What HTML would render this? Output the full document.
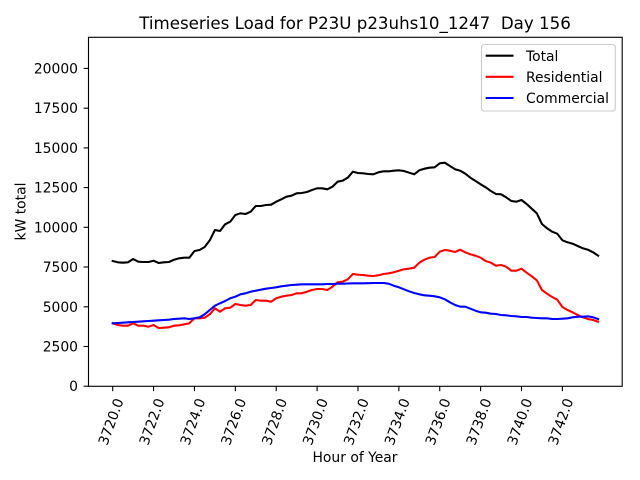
<!DOCTYPE html>
<html><head><meta charset="utf-8"><style>
html,body{margin:0;padding:0;background:#fff;}
svg{display:block;}
text{font-family:"DejaVu Sans","Liberation Sans",sans-serif;fill:#000;}
</style></head><body>
<svg width="640" height="480" viewBox="0 0 640 480" xmlns="http://www.w3.org/2000/svg">
<rect x="0" y="0" width="640" height="480" fill="#fff"/>
<text x="355" y="29" font-size="16.67" text-anchor="middle" xml:space="preserve" style="white-space:pre">Timeseries Load for P23U p23uhs10_1247  Day 156</text>

<!-- lines -->
<polyline fill="none" stroke="#000" stroke-width="2.08" stroke-linejoin="round" stroke-linecap="square" points="112.70,261 117.81,262.3 122.92,262.7 128.03,262.3 133.14,259 138.25,261.7 143.36,262 148.47,262 153.58,260.7 158.69,263 163.80,262.3 168.91,262 174.02,259.7 179.13,258.3 184.24,257.7 189.35,257.7 194.46,251 199.57,250 204.68,247 209.79,240.3 214.90,230 220.01,231 225.12,224.3 230.23,221.7 235.34,215 240.45,213.3 245.56,214 250.67,211.7 255.78,206 260.89,206 266.00,205 271.11,204.7 276.22,201.7 281.33,199.3 286.44,196.7 291.55,195.7 296.66,193.3 301.77,193 306.88,192 311.99,190 317.10,188.3 322.21,188.3 327.32,189.3 332.43,186.7 337.54,181.7 342.65,180.7 347.76,177.7 352.87,171.7 357.98,173 363.09,173.3 368.20,174 373.31,174.3 378.42,172.3 383.53,171.3 388.64,171.3 393.75,170.7 398.86,170.3 403.97,171 409.08,172.7 414.19,174.3 419.30,170.3 424.41,168.7 429.52,167.7 434.63,167.3 439.74,163.3 444.85,162.7 449.96,166 455.07,169.3 460.18,170.7 465.29,173.7 470.40,177.7 475.51,181 480.62,184.3 485.73,187.3 490.84,191 495.95,194 501.06,194.3 506.17,197.3 511.28,201 516.39,201.7 521.50,200 526.61,204 531.72,208.7 536.83,213.3 541.94,224 547.05,228.3 552.16,231.7 557.27,233.7 562.38,240.3 567.49,242.3 572.60,243.7 577.71,246 582.82,248.3 587.93,249.7 593.04,252.3 598.15,255.7"/>
<polyline fill="none" stroke="#ff0000" stroke-width="2.08" stroke-linejoin="round" stroke-linecap="square" points="112.70,323.3 117.81,325 122.92,325.7 128.03,325.7 133.14,323.3 138.25,325.7 143.36,325.7 148.47,326.7 153.58,325 158.69,328 163.80,327.7 168.91,327.3 174.02,325.7 179.13,325.3 184.24,324.3 189.35,323.3 194.46,318.3 199.57,318.3 204.68,317.7 209.79,314.3 214.90,308.3 220.01,311.7 225.12,308.3 230.23,307.7 235.34,304 240.45,305 245.56,305.7 250.67,305 255.78,300 260.89,300.7 266.00,300.7 271.11,301.7 276.22,298.3 281.33,296.7 286.44,295.7 291.55,295 296.66,293.3 301.77,293.3 306.88,291.7 311.99,290 317.10,289 322.21,289 327.32,290 332.43,286.7 337.54,282.3 342.65,281.7 347.76,279.3 352.87,274 357.98,274.7 363.09,275 368.20,275.7 373.31,276 378.42,275.3 383.53,274 388.64,273.3 393.75,272.3 398.86,270.7 403.97,269.3 409.08,268.7 414.19,267.7 419.30,262.7 424.41,259.7 429.52,257.7 434.63,257 439.74,251.7 444.85,250 449.96,250.7 455.07,252 460.18,249.7 465.29,252.3 470.40,254.3 475.51,255.7 480.62,257.7 485.73,261 490.84,262.7 495.95,265.7 501.06,265 506.17,266.7 511.28,270.7 516.39,270.7 521.50,268.7 526.61,272.7 531.72,276.3 536.83,280.3 541.94,290 547.05,293.7 552.16,297 557.27,299.7 562.38,307 567.49,310 572.60,312.3 577.71,315 582.82,317.3 587.93,319 593.04,320 598.15,321.7"/>
<polyline fill="none" stroke="#0000ff" stroke-width="2.08" stroke-linejoin="round" stroke-linecap="square" points="112.70,323.3 117.81,323 122.92,322.7 128.03,322.3 133.14,322 138.25,321.7 143.36,321.3 148.47,321 153.58,320.7 158.69,320.3 163.80,320 168.91,319.7 174.02,319 179.13,318.7 184.24,318.3 189.35,319 194.46,318.3 199.57,317.3 204.68,314.3 209.79,310 214.90,305.7 220.01,303.3 225.12,301 230.23,298.3 235.34,296.7 240.45,294.3 245.56,293.3 250.67,291.7 255.78,290.7 260.89,289.7 266.00,288.7 271.11,288 276.22,287.3 281.33,286.3 286.44,285.7 291.55,285 296.66,284.7 301.77,284.3 306.88,284.3 311.99,284.3 317.10,284.3 322.21,284.3 327.32,284 332.43,284 337.54,283.7 342.65,283.7 347.76,283.5 352.87,283.3 357.98,283.3 363.09,283.3 368.20,283.2 373.31,283 378.42,283 383.53,283 388.64,283.7 393.75,285.7 398.86,287.3 403.97,289.3 409.08,291.3 414.19,293 419.30,294.3 424.41,295.3 429.52,295.7 434.63,296.3 439.74,297.3 444.85,299.3 449.96,302.3 455.07,305 460.18,306.7 465.29,306.7 470.40,308.7 475.51,310.7 480.62,312.3 485.73,312.7 490.84,313.7 495.95,314 501.06,315 506.17,315.3 511.28,316 516.39,316.3 521.50,317 526.61,317 531.72,317.7 536.83,318 541.94,318.3 547.05,318.3 552.16,319 557.27,319 562.38,318.7 567.49,318.3 572.60,317.3 577.71,316.7 582.82,316.7 587.93,316.3 593.04,317.3 598.15,319"/>

<!-- axes frame -->
<rect x="88.5" y="37.3" width="533.7" height="349" fill="none" stroke="#000" stroke-width="1.11"/>

<!-- y ticks -->
<g stroke="#000" stroke-width="1.11">
<line x1="83.6" y1="386.2" x2="88.5" y2="386.2"/>
<line x1="83.6" y1="346.5" x2="88.5" y2="346.5"/>
<line x1="83.6" y1="306.8" x2="88.5" y2="306.8"/>
<line x1="83.6" y1="267.0" x2="88.5" y2="267.0"/>
<line x1="83.6" y1="227.3" x2="88.5" y2="227.3"/>
<line x1="83.6" y1="187.6" x2="88.5" y2="187.6"/>
<line x1="83.6" y1="147.9" x2="88.5" y2="147.9"/>
<line x1="83.6" y1="108.2" x2="88.5" y2="108.2"/>
<line x1="83.6" y1="68.4" x2="88.5" y2="68.4"/>
</g>
<g font-size="13.89" text-anchor="end">
<text x="78" y="391.2">0</text>
<text x="78" y="351.5">2500</text>
<text x="78" y="311.8">5000</text>
<text x="78" y="272.0">7500</text>
<text x="78" y="232.3">10000</text>
<text x="78" y="192.6">12500</text>
<text x="78" y="152.9">15000</text>
<text x="78" y="113.2">17500</text>
<text x="78" y="73.4">20000</text>
</g>
<text transform="translate(25.5,211.5) rotate(-90)" font-size="13.89" text-anchor="middle">kW total</text>

<!-- x ticks -->
<g stroke="#000" stroke-width="1.11">
<line x1="112.70" y1="386.3" x2="112.70" y2="391.2"/>
<line x1="153.58" y1="386.3" x2="153.58" y2="391.2"/>
<line x1="194.46" y1="386.3" x2="194.46" y2="391.2"/>
<line x1="235.34" y1="386.3" x2="235.34" y2="391.2"/>
<line x1="276.22" y1="386.3" x2="276.22" y2="391.2"/>
<line x1="317.10" y1="386.3" x2="317.10" y2="391.2"/>
<line x1="357.98" y1="386.3" x2="357.98" y2="391.2"/>
<line x1="398.86" y1="386.3" x2="398.86" y2="391.2"/>
<line x1="439.74" y1="386.3" x2="439.74" y2="391.2"/>
<line x1="480.62" y1="386.3" x2="480.62" y2="391.2"/>
<line x1="521.50" y1="386.3" x2="521.50" y2="391.2"/>
<line x1="562.38" y1="386.3" x2="562.38" y2="391.2"/>
</g>
<g font-size="13.89" text-anchor="middle" dominant-baseline="central">
<text transform="translate(111.7,422) rotate(-70)">3720.0</text>
<text transform="translate(152.6,422) rotate(-70)">3722.0</text>
<text transform="translate(193.5,422) rotate(-70)">3724.0</text>
<text transform="translate(234.3,422) rotate(-70)">3726.0</text>
<text transform="translate(275.2,422) rotate(-70)">3728.0</text>
<text transform="translate(316.1,422) rotate(-70)">3730.0</text>
<text transform="translate(357.0,422) rotate(-70)">3732.0</text>
<text transform="translate(397.9,422) rotate(-70)">3734.0</text>
<text transform="translate(438.7,422) rotate(-70)">3736.0</text>
<text transform="translate(479.6,422) rotate(-70)">3738.0</text>
<text transform="translate(520.5,422) rotate(-70)">3740.0</text>
<text transform="translate(561.4,422) rotate(-70)">3742.0</text>
</g>
<text x="355" y="462" font-size="13.89" text-anchor="middle">Hour of Year</text>

<!-- legend -->
<rect x="481.5" y="44.5" width="133.8" height="66.5" rx="2.8" ry="2.8" fill="#fff" fill-opacity="0.8" stroke="#cccccc" stroke-width="1.11"/>
<line x1="485.7" y1="55.7" x2="513.5" y2="55.7" stroke="#000" stroke-width="2.08"/>
<line x1="485.7" y1="76.8" x2="513.5" y2="76.8" stroke="#ff0000" stroke-width="2.08"/>
<line x1="485.7" y1="98" x2="513.5" y2="98" stroke="#0000ff" stroke-width="2.08"/>
<g font-size="13.89">
<text x="526" y="60.8">Total</text>
<text x="526" y="81.9">Residential</text>
<text x="526" y="103.1">Commercial</text>
</g>
</svg>
</body></html>
